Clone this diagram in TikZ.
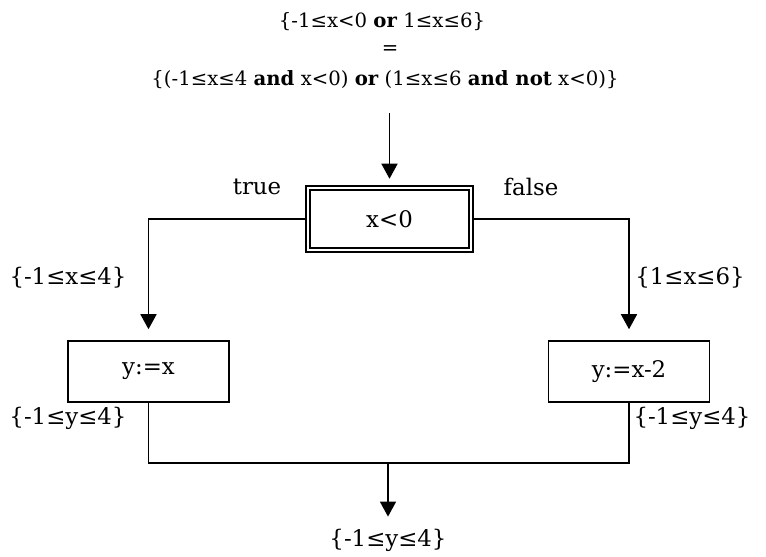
\documentclass[tikz,border=0pt]{standalone}
\usepackage{fontspec}
\setmainfont{DejaVu Serif}
\usetikzlibrary{arrows.meta}

\begin{document}
\begin{tikzpicture}[x=0.02cm, y=-0.02cm, font=\fontsize{13}{15}\selectfont]
    \tikzstyle{box} = [draw, line width=0.9pt, minimum width=3.22cm, minimum height=1.22cm, inner sep=0pt]
    \tikzstyle{test box} = [box, double, double distance=1.6pt, minimum width=3.26cm, minimum height=1.24cm]
    \tikzstyle{flow} = [line width=0.9pt, -{Triangle[length=0.3cm, width=0.32cm]}]
    \tikzstyle{head} = [font=\fontsize{11.2}{13}\selectfont]

      \useasboundingbox (0,0) rectangle (766,556);

      % precondition on top
      \node[head] (pre)  at (382,22) {\{-1≤x<0 \textbf{or} 1≤x≤6\}};
      \node[head] (eq)   at (390,50) {=};
      \node[head] (pre2) at (385,80) {\{(-1≤x≤4 \textbf{and} x<0) \textbf{or} (1≤x≤6 \textbf{and not} x<0)\}};
      \coordinate (s) at (389.5,113);

      \node[test box] (c)  at (389.5,219) {x<0};
      \node[box]      (ct) at (148.5,371.5) {y:=x};
      \node[box]      (cf) at (629,371.5)   {y:=x-2};
      \coordinate (m) at (388,463);
      \node (post) at (388,540) {\{-1≤y≤4\}};

      \draw[flow, shorten >=0.17cm] (s) -- (c);
      \draw[flow, shorten >=0.22cm] (c.west) -| (ct.north);
      \draw[flow, shorten >=0.22cm] (c.east) -| (cf.north);
      \draw[line width=0.9pt] (ct.south) |- (m) -| (cf.south);
      \draw[flow, shorten >=0.12cm] (m) -- (post.north);

      % branch labels
      \node at (257,187) {true};
      \node at (531,187) {false};
      \node at (68,278)  {\{-1≤x≤4\}};
      \node at (690,278) {\{1≤x≤6\}};
      \node at (68,418)  {\{-1≤y≤4\}};
      \node at (692,418) {\{-1≤y≤4\}};
    \end{tikzpicture}
\end{document}
